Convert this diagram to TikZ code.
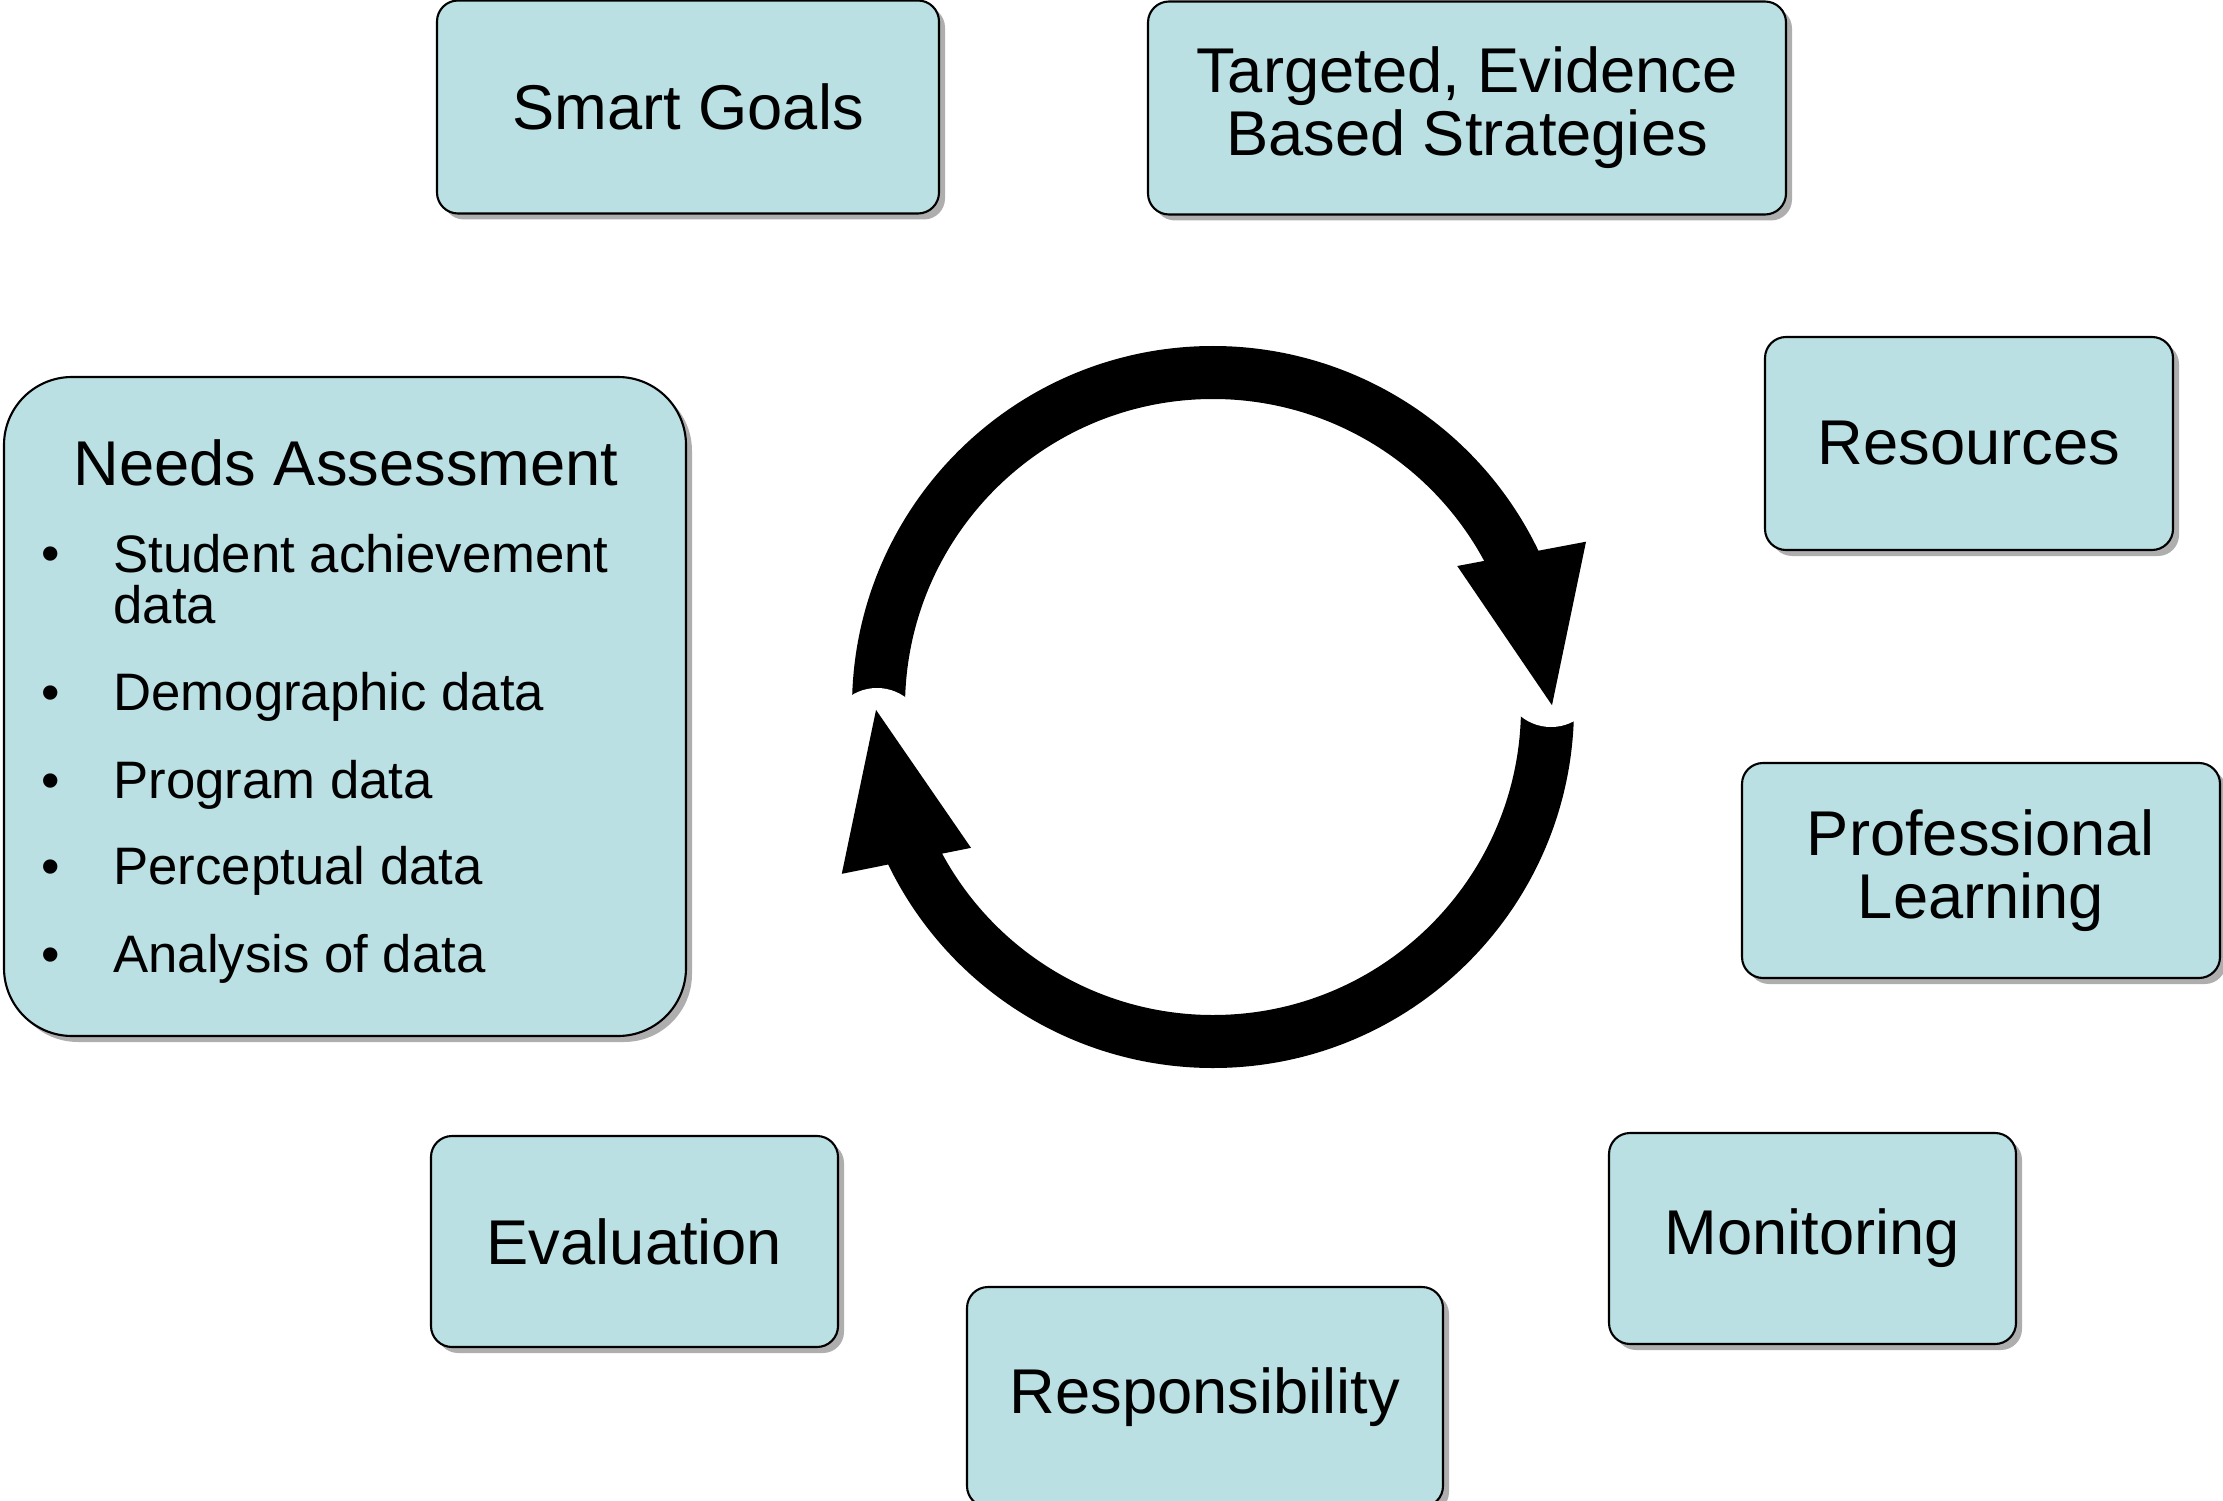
\documentclass[tikz,border=0pt]{standalone}
\usepackage{fontspec}
\setmainfont{Liberation Sans}
\usepackage{tikz}
\usetikzlibrary{positioning, calc, shadows}

\definecolor{boxfill}{RGB}{186,224,227}

\begin{document}
\begin{tikzpicture}[thick]
        % Define block styles
        \tikzstyle{block} = [rectangle, draw, line width=0.6pt, fill=boxfill, text centered, align=center, rounded corners=0.21cm, inner sep=0pt, font=\fontsize{18}{18}\selectfont, drop shadow={shadow xshift=0.06cm, shadow yshift=-0.06cm, fill=black!70, opacity=0.45}]
        \tikzstyle{item} = [anchor=base west, inner sep=0pt, align=left, font=\fontsize{15}{14.6}\selectfont]
        \tikzstyle{ring} = [line width=0.53cm]

        \useasboundingbox (0,0) rectangle (22.23,15);

        % Place nodes
        \node [block, minimum width=5.02cm, minimum height=2.13cm] (smart) at (6.88,13.93) {Smart Goals};
        \node [block, minimum width=6.38cm, minimum height=2.13cm] (targeted) at (14.67,13.92) {Targeted, Evidence\\Based Strategies};
        \node [block, minimum width=4.08cm, minimum height=2.13cm] (resources) at (19.69,10.565) {Resources};
        \node [block, minimum width=4.78cm, minimum height=2.15cm] (professional) at (19.81,6.295) {Professional\\Learning};
        \node [block, minimum width=4.07cm, minimum height=2.11cm] (monitoring) at (18.125,2.615) {Monitoring};
        \node [block, minimum width=4.76cm, minimum height=2.2cm] (responsibility) at (12.05,1.03) {Responsibility};
        \node [block, minimum width=4.07cm, minimum height=2.11cm] (evaluation) at (6.345,2.585) {Evaluation};
        \node [block, rounded corners=0.68cm, minimum width=6.82cm, minimum height=6.59cm] (needs) at (3.45,7.935) {};

        % Needs assessment list
        \node [item, anchor=base, font=\fontsize{18}{18}\selectfont] (needs_title) at ($(needs.north)+(0.01,-1.10)$) {Needs Assessment};
        \node [item] (achievement) at (1.12,8.762) {Student achievement\\data};
        \node [item] (demographic) at (1.12,7.90) {Demographic data};
        \node [item] (program) at (1.12,7.02) {Program data};
        \node [item] (perceptual) at (1.12,6.154) {Perceptual data};
        \node [item] (analysis) at (1.12,5.274) {Analysis of data};
        \foreach \y [count=\i] in {9.287, 7.90, 7.02, 6.154, 5.274}
            \node [item, anchor=base] (dot\i) at (0.51,\y) {\textbullet};

        % Draw the cycle arrows
        \coordinate (hub) at (12.13,7.93);
        \draw [ring] ([shift={(180:3.345)}]hub) arc [start angle=180, end angle=25, radius=3.345];
        \draw [ring] ([shift={(0:3.345)}]hub) arc [start angle=0, end angle=-155, radius=3.345];
        % notches at the gaps
        \fill [white] ($(hub)+(-3.36,-0.29)$) circle (0.48);
        \fill [white] ($(hub)+(3.38,0.28)$) circle (0.48);
        \fill ($(hub)+(30:2.82)$) -- ($(hub)+(23.9:4.08)$) -- ($(hub)+(0.3:3.39)$) -- cycle;
        \fill ($(hub)+(210.2:2.80)$) -- ($(hub)+(204.2:4.07)$) -- ($(hub)+(180.5:3.37)$) -- cycle;
    \end{tikzpicture}
\end{document}
